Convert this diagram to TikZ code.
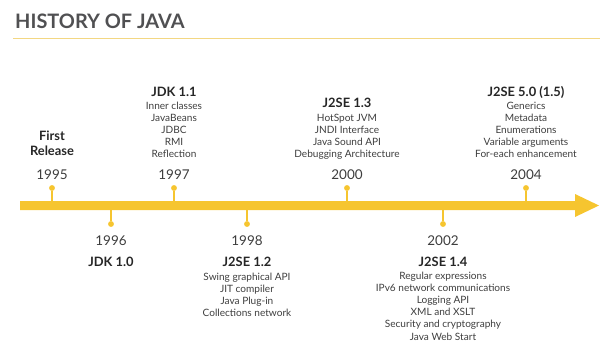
\documentclass[tikz,border=0pt]{standalone}
\usepackage{fontspec}
\setmainfont{Lato}
\definecolor{javayellow}{RGB}{246,197,47}
\definecolor{ruleyellow}{RGB}{243,215,130}
\definecolor{titlegray}{RGB}{80,80,82}
\definecolor{textgray}{RGB}{62,62,62}
\begin{document}
\begin{tikzpicture}[x=0.03cm, y=-0.03cm,
    yearlabel/.style={font=\fontsize{11.5}{13}\selectfont, text=textgray, anchor=base},
    release/.style={font=\fontsize{11}{12.8}\selectfont\bfseries, text=black!85, align=center},
    features/.style={font=\fontsize{8.6}{10.4}\selectfont, text=textgray, align=center, inner sep=0pt, anchor=north},
    pin/.style={circle, fill=javayellow, inner sep=0pt, minimum size=5pt}]
    \useasboundingbox (0,0) rectangle (600,358);
    % title
    \node[anchor=base west, inner sep=0pt, font=\fontsize{17}{19}\selectfont\bfseries, text=titlegray] (title) at (15,28) {HISTORY OF JAVA};
    \draw[ruleyellow, line width=1.7pt] (13,38.5) -- (600,38.5);
    % timeline arrow
    \fill[javayellow] (20,201) -- (575,201) -- (575,194) -- (599,205.5) -- (575,217) -- (575,210) -- (20,210) -- cycle;
    % versions above the line
    \foreach \x/\yr in {52/1995, 174/1997, 347/2000, 526/2004}{
        \node[pin] (p\yr) at (\x,188) {};
        \draw[javayellow, line width=1.1pt] (p\yr) -- (\x,203);
        \node[yearlabel] (y\yr) at (\x,179) {\yr};
    }
    % versions below the line
    \foreach \x/\yr in {111/1996, 247/1998, 443/2002}{
        \node[pin] (p\yr) at (\x,224) {};
        \draw[javayellow, line width=1.1pt] (p\yr) -- (\x,208);
        \node[yearlabel] (y\yr) at (\x,245) {\yr};
    }
    \node[release, anchor=north, inner sep=0pt] (first) at (52,131) {First\\Release};
    \node[release, anchor=base] (jdk11) at (174,96.5) {JDK 1.1};
    \node[features] (f11) at (174,101.5) {Inner classes\\JavaBeans\\JDBC\\RMI\\Reflection};
    \node[release, anchor=base] (se13) at (347,107.5) {J2SE 1.3};
    \node[features] (f13) at (347,113.5) {HotSpot JVM\\JNDI Interface\\Java Sound API\\Debugging Architecture};
    \node[release, anchor=base] (se15) at (526,96.5) {J2SE 5.0 (1.5)};
    \node[features] (f15) at (526,101.5) {Generics\\Metadata\\Enumerations\\Variable arguments\\For-each enhancement};
    \node[release, anchor=base] (jdk10) at (111,266.5) {JDK 1.0};
    \node[release, anchor=base] (se12) at (247,266.5) {J2SE 1.2};
    \node[features] (f12) at (247,272.5) {Swing graphical API\\JIT compiler\\Java Plug-in\\Collections network};
    \node[release, anchor=base] (se14) at (443,266.5) {J2SE 1.4};
    \node[features] (f14) at (443,271.5) {Regular expressions\\IPv6 network communications\\Logging API\\XML and XSLT\\Security and cryptography\\Java Web Start};
\end{tikzpicture}
\end{document}
